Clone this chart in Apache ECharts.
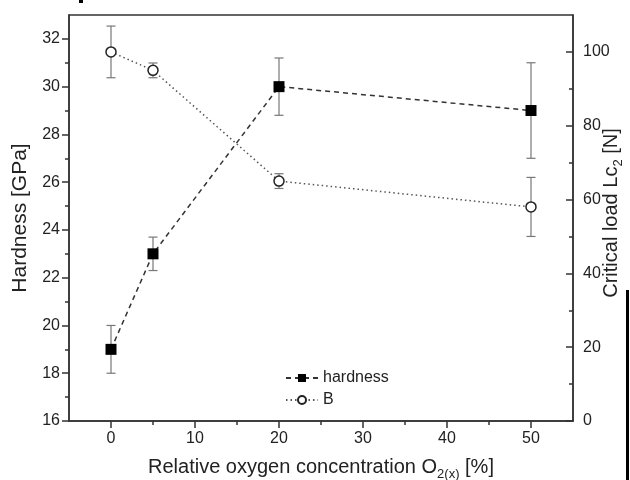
<!DOCTYPE html>
<html>
<head>
<meta charset="utf-8">
<script src="https://cdn.jsdelivr.net/npm/echarts@6/dist/echarts.min.js"></script>
<style>
html,body{margin:0;padding:0;background:#fff;}
#chart{width:630px;height:480px;}
</style>
</head>
<body>
<div id="chart"></div>
<script>
// ---- data ----
var xValues = [0, 5, 20, 50];
var hardness = [19, 23, 30, 29];
var hardnessErr = [1.0, 0.7, 1.2, 2.0];
var bValues = [100, 95, 65, 58];
var bErr = [7, 2, 2, 8];

var xTicks = [0, 10, 20, 30, 40, 50];
var xMinorTicks = [5, 15, 25, 35, 45];
var leftTicks = [16, 18, 20, 22, 24, 26, 28, 30, 32];
var leftMinorTicks = [17, 19, 21, 23, 25, 27, 29, 31];
var rightTicks = [0, 20, 40, 60, 80, 100];
var rightMinorTicks = [10, 30, 50, 70, 90];

var FONT = 'Liberation Sans, Arial, sans-serif';
var AX = '#333';

function pairs(xs, ys) { return xs.map(function (x, i) { return [x, ys[i]]; }); }
function errData(xs, ys, es) { return xs.map(function (x, i) { return [x, ys[i] - es[i], ys[i] + es[i]]; }); }

function errRender(params, api) {
  var x = api.value(0), lo = api.value(1), hi = api.value(2);
  var pHi = api.coord([x, hi]), pLo = api.coord([x, lo]);
  var w = 4.5;
  var st = { stroke: '#777', lineWidth: 1.2 };
  return {
    type: 'group',
    children: [
      { type: 'line', shape: { x1: pHi[0], y1: pHi[1], x2: pLo[0], y2: pLo[1] }, style: st },
      { type: 'line', shape: { x1: pHi[0] - w, y1: pHi[1], x2: pHi[0] + w, y2: pHi[1] }, style: st },
      { type: 'line', shape: { x1: pLo[0] - w, y1: pLo[1], x2: pLo[0] + w, y2: pLo[1] }, style: st }
    ]
  };
}

var chart = echarts.init(document.getElementById('chart'), null, { renderer: 'canvas' });

var axisLineStyle = { color: AX, width: 1.5 };
var TICKFS = 16;

var option = {
  backgroundColor: '#fff',
  animation: false,
  textStyle: { fontFamily: FONT },
  grid: {
    left: 69, right: 57, top: 15, bottom: 59,
    containLabel: false, outerBoundsMode: 'none',
    show: true, borderColor: AX, borderWidth: 1.5, backgroundColor: 'transparent'
  },
  legend: {
    orient: 'vertical',
    left: 285, top: 370, padding: 0,
    itemWidth: 32, itemHeight: 10, itemGap: 6,
    data: ['hardness', 'B'],
    textStyle: { fontFamily: FONT, fontSize: 16, color: '#222' }
  },
  xAxis: [
    {
      type: 'value', min: -5, max: 55, position: 'bottom',
      axisLine: { show: true, onZero: false, lineStyle: axisLineStyle },
      axisTick: { show: true, inside: false, length: 7, customValues: xTicks, lineStyle: axisLineStyle },
      axisLabel: { customValues: xTicks, margin: 10, fontFamily: FONT, fontSize: TICKFS, color: '#222' },
      splitLine: { show: false },
      name: '{t|Relative oxygen concentration O}{s|2(x)}{t| [%]}',
      nameLocation: 'middle', nameGap: 33, nameMoveOverlap: false,
      nameTextStyle: {
        rich: {
          t: { fontFamily: FONT, fontSize: 20, color: '#222', lineHeight: 27 },
          s: { fontFamily: FONT, fontSize: 13, color: '#222', verticalAlign: 'bottom', lineHeight: 13 }
        }
      }
    },
    {
      type: 'value', min: -5, max: 55, position: 'bottom',
      axisLine: { show: false, onZero: false },
      axisTick: { show: true, inside: false, length: 4, customValues: xMinorTicks, lineStyle: axisLineStyle },
      axisLabel: { show: false },
      splitLine: { show: false }
    }
  ],
  yAxis: [
    {
      type: 'value', min: 16, max: 33, position: 'left',
      axisLine: { show: true, onZero: false, lineStyle: axisLineStyle },
      axisTick: { show: true, inside: false, length: 7, customValues: leftTicks, lineStyle: axisLineStyle },
      axisLabel: { customValues: leftTicks, margin: 9, fontFamily: FONT, fontSize: TICKFS, color: '#222' },
      splitLine: { show: false },
      name: 'Hardness [GPa]', nameLocation: 'middle', nameGap: 38, nameRotate: 90, nameMoveOverlap: false,
      nameTextStyle: { fontFamily: FONT, fontSize: 21, color: '#222' }
    },
    {
      type: 'value', min: 0, max: 110, position: 'right',
      axisLine: { show: true, onZero: false, lineStyle: axisLineStyle },
      axisTick: { show: true, inside: true, length: 7, customValues: rightTicks, lineStyle: axisLineStyle },
      axisLabel: { customValues: rightTicks, margin: 10, fontFamily: FONT, fontSize: TICKFS, color: '#222' },
      splitLine: { show: false },
      name: '{t|Critical load Lc}{s|2}{t| [N]}', nameLocation: 'middle', nameGap: 25, nameRotate: 90, nameMoveOverlap: false,
      nameTextStyle: {
        padding: [0, 0, 0, 10],
        rich: {
          t: { fontFamily: FONT, fontSize: 20, color: '#222', lineHeight: 27 },
          s: { fontFamily: FONT, fontSize: 13, color: '#222', verticalAlign: 'bottom', lineHeight: 13 }
        }
      }
    },
    {
      type: 'value', min: 16, max: 33, position: 'left',
      axisLine: { show: false, onZero: false },
      axisTick: { show: true, inside: false, length: 4, customValues: leftMinorTicks, lineStyle: axisLineStyle },
      axisLabel: { show: false },
      splitLine: { show: false }
    },
    {
      type: 'value', min: 0, max: 110, position: 'right',
      axisLine: { show: false, onZero: false },
      axisTick: { show: true, inside: true, length: 4, customValues: rightMinorTicks, lineStyle: axisLineStyle },
      axisLabel: { show: false },
      splitLine: { show: false }
    }
  ],
  series: [
    {
      type: 'custom', name: 'hardnessErr', xAxisIndex: 0, yAxisIndex: 0, z: 1,
      renderItem: errRender, data: errData(xValues, hardness, hardnessErr), silent: true
    },
    {
      type: 'custom', name: 'bErr', xAxisIndex: 0, yAxisIndex: 1, z: 1,
      renderItem: errRender, data: errData(xValues, bValues, bErr), silent: true
    },
    {
      type: 'line', name: 'hardness', xAxisIndex: 0, yAxisIndex: 0, z: 3,
      data: pairs(xValues, hardness),
      symbol: 'rect', symbolSize: 11,
      itemStyle: { color: '#000', borderColor: '#000', borderWidth: 0 },
      lineStyle: { color: '#333', width: 1.5, type: [5, 4] }
    },
    {
      type: 'line', name: 'B', xAxisIndex: 0, yAxisIndex: 1, z: 3,
      data: pairs(xValues, bValues),
      symbol: 'circle', symbolSize: 10,
      itemStyle: { color: '#fff', borderColor: '#222', borderWidth: 1.5 },
      lineStyle: { color: '#555', width: 1.5, type: [1.5, 3] }
    }
  ],
  graphic: [
    { type: 'rect', left: 626, top: 290, shape: { width: 3, height: 190 }, style: { fill: '#000' } },
    { type: 'rect', left: 79, top: 0, shape: { width: 4, height: 3 }, style: { fill: '#000' } }
  ]
};
chart.setOption(option);
</script>
</body>
</html>
